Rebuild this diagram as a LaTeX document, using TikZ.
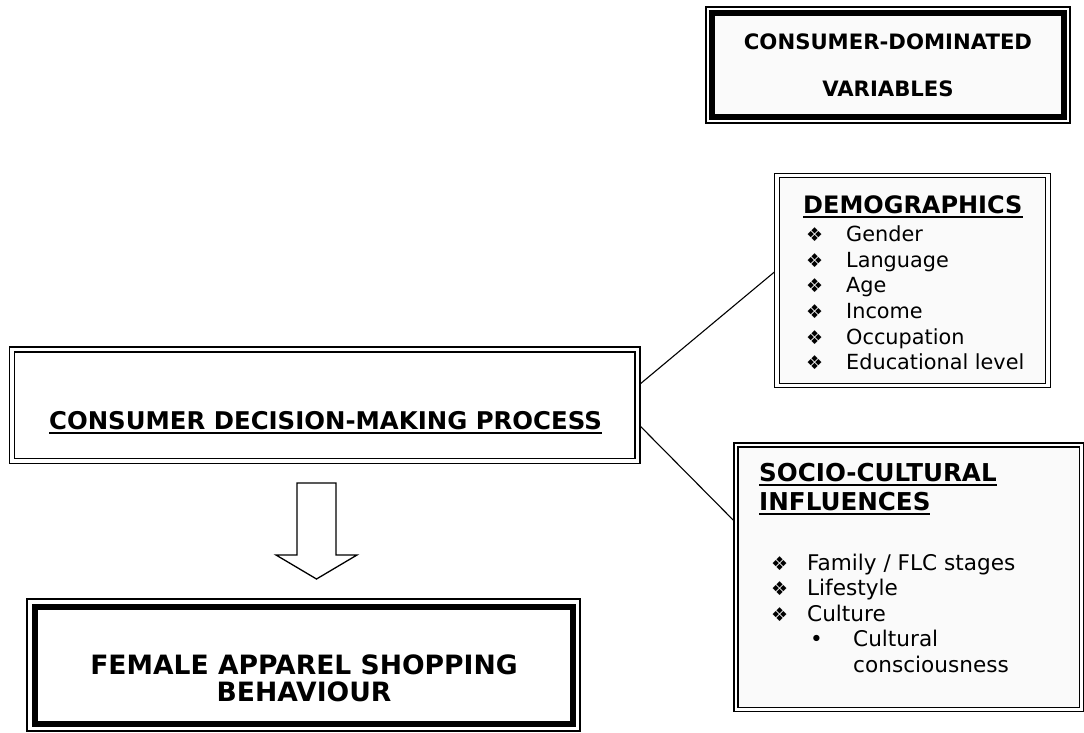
\documentclass[tikz,border=0pt]{standalone}
\usepackage{fontspec}
\setmainfont{DejaVu Sans}
\usetikzlibrary{calc}

\newcommand{\dia}{{\fontsize{19}{19}\selectfont ❖}}
\newcommand{\ulined}[1]{\leavevmode\vtop{\hbox{#1}\kern2.6pt\hrule height 1.8pt}}

\begin{document}
\begin{tikzpicture}[x=1pt,y=-1pt,>=latex,
    box/.style={draw,inner sep=0pt,outer sep=0pt},
    dbox/.style={box,double,double distance=#1,line width=1.3pt,outer sep=2.6pt},
    tbox/.style={box,line width=6pt},
    grain/.style={fill=black!2}]
  \useasboundingbox (0,0) rectangle (1084,733);
  \node[tbox,grain,minimum width=352pt,minimum height=104pt,align=center,
        font=\fontsize{21.2}{47}\selectfont\bfseries] (vars) at (888,65)
        {CONSUMER-DOMINATED\\VARIABLES};
  \node[dbox=3.2pt,grain,minimum width=271pt,minimum height=210pt] (demo) at (912.5,280.5) {};
  \node[dbox=2.7pt,grain,minimum width=345.5pt,minimum height=264.5pt] (socio) at (908.75,577.25) {};
  \node[dbox=3.8pt,minimum width=625.5pt,minimum height=111.5pt] (cdmp) at (324.75,405.25) {};
  \node[tbox,minimum width=538pt,minimum height=117pt] (fasb) at (303.5,665) {};
  \foreach \n/\d in {vars/6,fasb/7.5}
    \draw[line width=1.2pt] ([shift={(-\d,-\d)}]\n.north west) rectangle ([shift={(\d,\d)}]\n.south east);

  \node[anchor=base,font=\fontsize{24.4}{24}\selectfont\bfseries] (cdmptext) at (325.5,429)
    {\ulined{CONSUMER DECISION-MAKING PROCESS}};
  \node[align=center,font=\fontsize{26.6}{27}\selectfont\bfseries] (fasbtext) at (304,678)
    {FEMALE APPAREL SHOPPING\\BEHAVIOUR};
  \node[anchor=north west,inner sep=0pt,align=left,font=\fontsize{20.8}{25.6}\selectfont] (demotext) at (803,195)
    {{\fontsize{24}{22}\selectfont\bfseries\ulined{DEMOGRAPHICS}}\\[3pt]
     \hspace*{3pt}\makebox[40pt][l]{\dia}Gender\\
     \hspace*{3pt}\makebox[40pt][l]{\dia}Language\\
     \hspace*{3pt}\makebox[40pt][l]{\dia}Age\\
     \hspace*{3pt}\makebox[40pt][l]{\dia}Income\\
     \hspace*{3pt}\makebox[40pt][l]{\dia}Occupation\\
     \hspace*{3pt}\makebox[40pt][l]{\dia}Educational level};
  \node[anchor=north west,inner sep=0pt,align=left,font=\fontsize{21.6}{25.4}\selectfont] (sociotext) at (759,463)
    {{\fontsize{24.6}{22}\selectfont\bfseries\ulined{SOCIO-CULTURAL}}\\[3.2pt]
     {\fontsize{24.6}{22}\selectfont\bfseries\ulined{INFLUENCES}}\\[35pt]
     \hspace*{12pt}\makebox[36pt][l]{\dia}Family / FLC stages\\
     \hspace*{12pt}\makebox[36pt][l]{\dia}Lifestyle\\
     \hspace*{12pt}\makebox[36pt][l]{\dia}Culture\\
     \hspace*{51pt}\makebox[43pt][l]{\textbullet}Cultural\\
     \hspace*{94pt}consciousness};

  \draw[line width=1.1pt] ($(cdmp.east)+(0,-21.25)$) -- ($(demo.west)+(0,-8.5)$);
  \draw[line width=1.1pt] ($(cdmp.east)+(0,20.75)$) -- ($(socio.west)+(0,-57)$);
  \draw[line width=1.3pt,line join=miter] (297,483) -- (336,483) -- (336,555) -- (357,555)
    -- (316.5,579) -- (276,555) -- (297,555) -- cycle;
\end{tikzpicture}
\end{document}
